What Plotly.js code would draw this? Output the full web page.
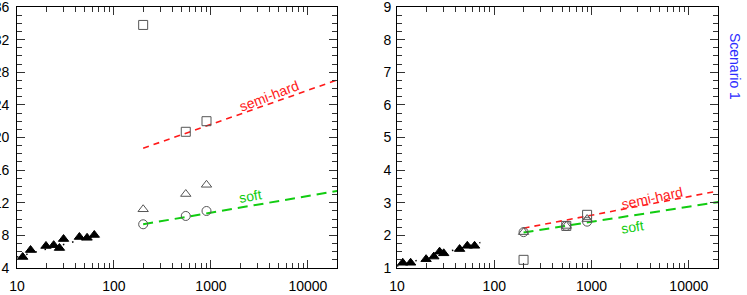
<!DOCTYPE html>
<html>
<head>
<meta charset="utf-8">
<script src="https://cdn.plot.ly/plotly-3.0.1.min.js"></script>
<style>
html,body{margin:0;padding:0;background:#fff;}
#chart{width:747px;height:295px;}
</style>
</head>
<body>
<div id="chart"></div>
<script>
// ---- data ----
const lowX = [11.45, 13.8, 19.9, 23.9, 27.4, 30.2, 44.0, 52.8, 62.7];
const lowYLeft = [5.35, 6.2, 6.7, 6.8, 6.45, 7.55, 7.8, 7.7, 8.05];
const lowYRight = [1.16, 1.16, 1.27, 1.35, 1.5, 1.45, 1.58, 1.68, 1.68];

const fitXLeft = [10, 70];
const fitYLeft = [5.35, 8.05];
const fitXRight = [10, 72];
const fitYRight = [1.06, 1.78];

const highX = [200, 550, 900];
const squaresLeft = [33.8, 20.7, 22.0];
const trianglesLeft = [11.2, 13.07, 14.2];
const circlesLeft = [9.36, 10.38, 10.99];
const squaresRight = [1.25, 2.29, 2.63];
const trianglesRight = [2.1, 2.29, 2.5];
const circlesRight = [2.1, 2.29, 2.42];

const curveX = [200, 20000];
const softLeft = [9.36, 13.44];
const semiLeft = [18.68, 27.05];
const softRight = [2.09, 3.02];
const semiRight = [2.22, 3.36];

const xTickVals = [10, 100, 1000, 10000];
const xTickText = ["10", "100", "1000", "10000"];

// ---- styles ----
const RED = "#ff1a1a";
const GREEN = "#11cc11";
const MARK = "#555555";
const FONT = "Liberation Sans, Arial, sans-serif";

const minorX = [];
for (let d = 10; d <= 10000; d *= 10) {
  for (let k = 2; k <= 9; k++) minorX.push(k * d);
}

function lineTrace(x, y, xa, ya, color, width, dash) {
  return {x: x, y: y, xaxis: xa, yaxis: ya, type: "scatter", mode: "lines",
    line: {color: color, width: width, dash: dash}, hoverinfo: "skip", showlegend: false};
}
function markTrace(x, y, xa, ya, symbol, size, color) {
  return {x: x, y: y, xaxis: xa, yaxis: ya, type: "scatter", mode: "markers",
    marker: {symbol: symbol, size: size, color: color, line: {color: color, width: 1}},
    showlegend: false, cliponaxis: false};
}

const traces = [
  lineTrace(fitXLeft, fitYLeft, "x", "y", "#000", 1.5, "1.5px,8px"),
  lineTrace(curveX, semiLeft, "x", "y", RED, 1.6, "6px,5px"),
  lineTrace(curveX, softLeft, "x", "y", GREEN, 2, "10px,6px"),
  markTrace(lowX, lowYLeft, "x", "y", "triangle-up", 9, "#000"),
  markTrace(highX, squaresLeft, "x", "y", "square-open", 9, MARK),
  markTrace(highX, trianglesLeft, "x", "y", "triangle-up-open", 9, MARK),
  markTrace(highX, circlesLeft, "x", "y", "circle-open", 9, MARK),

  lineTrace(fitXRight, fitYRight, "x2", "y2", "#000", 1.5, "1.5px,8px"),
  lineTrace(curveX, semiRight, "x2", "y2", RED, 1.6, "6px,5px"),
  lineTrace(curveX, softRight, "x2", "y2", GREEN, 2, "10px,6px"),
  markTrace(lowX, lowYRight, "x2", "y2", "triangle-up", 9, "#000"),
  markTrace(highX, squaresRight, "x2", "y2", "square-open", 9, MARK),
  markTrace(highX, trianglesRight, "x2", "y2", "triangle-up-open", 9, MARK),
  markTrace(highX, circlesRight, "x2", "y2", "circle-open", 9, MARK)
];

function xAxis(domain, anchor) {
  return {type: "log", domain: domain, anchor: anchor, range: [1, 4.3],
    tickvals: xTickVals, ticktext: xTickText, ticks: "inside", ticklen: 8, tickwidth: 1,
    tickcolor: "#333", showline: true, linecolor: "#000", linewidth: 1, mirror: "allticks",
    showgrid: false, zeroline: false, tickfont: {family: FONT, size: 14, color: "#000"},
    ticklabelstandoff: 5, ticklabeloverflow: "allow",
    minor: {tickvals: minorX, ticks: "inside", ticklen: 5, tickcolor: "#333", tickwidth: 1, showgrid: false}};
}
function yAxis(range, dtick, minorDtick, anchor, standoff) {
  return {range: range, anchor: anchor, dtick: dtick, tick0: range[0], ticks: "inside", ticklen: 8,
    tickwidth: 1, tickcolor: "#333", showline: true, linecolor: "#000", linewidth: 1,
    mirror: "allticks", showgrid: false, zeroline: false,
    tickfont: {family: FONT, size: 14, color: "#000"},
    ticklabelstandoff: standoff, ticklabeloverflow: "allow",
    minor: {dtick: minorDtick, ticks: "inside", ticklen: 5, tickcolor: "#333", tickwidth: 1, showgrid: false}};
}

const annFont = (c) => ({family: FONT, size: 14, color: c});
const layout = {
  width: 747, height: 295,
  margin: {l: 17, r: 29, t: 7, b: 27, pad: 0},
  paper_bgcolor: "#fff", plot_bgcolor: "#fff",
  showlegend: false,
  xaxis: xAxis([0, 0.4565], "y"),
  yaxis: yAxis([4, 36], 4, 1, "x", 4),
  xaxis2: xAxis([0.5421, 1], "y2"),
  yaxis2: yAxis([1, 9], 1, 0.25, "x2", 2),
  annotations: [
    {xref: "x", yref: "y", x: Math.log10(3950), y: 25.1, text: "semi-hard", showarrow: false,
      textangle: -21, font: annFont(RED)},
    {xref: "x", yref: "y", x: Math.log10(2580), y: 12.83, text: "soft", showarrow: false,
      textangle: -10, font: annFont(GREEN)},
    {xref: "x2", yref: "y2", x: Math.log10(4150), y: 3.14, text: "semi-hard", showarrow: false,
      textangle: -12, font: annFont(RED)},
    {xref: "x2", yref: "y2", x: Math.log10(2620), y: 2.27, text: "soft", showarrow: false,
      textangle: -9, font: annFont(GREEN)},
    {xref: "paper", yref: "paper", x: 1.0243, y: 0.774, xanchor: "center", yanchor: "middle",
      text: "Scenario 1", showarrow: false, textangle: 90, font: annFont("#2b2bff")}
  ]
};

Plotly.newPlot("chart", traces, layout, {staticPlot: true, displayModeBar: false});
</script>
</body>
</html>
